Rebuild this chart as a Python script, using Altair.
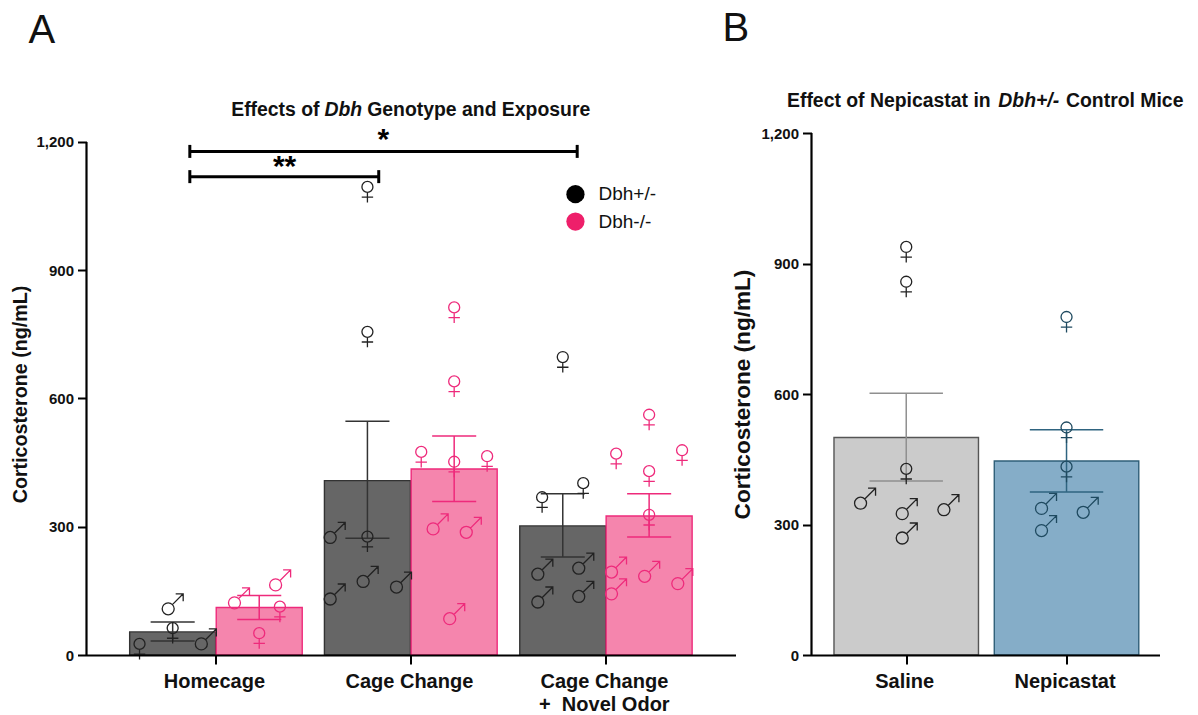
import altair as alt
import pandas as pd

FONT = "Liberation Sans"
series_names = ["Dbh+/-", "Dbh-/-", "Saline", "Nepicastat"]
fill_colors = ["#666666", "#f585ad", "#cbcbcb", "#85adc8"]
edge_colors = ["#333333", "#ee2a7b", "#555555", "#2f5f78"]
line_colors = ["#333333", "#ee2a7b", "#8f8f8f", "#2f6480"]
mark_colors = ["#222222", "#ee2a7b", "#222222", "#1f4a60"]

# ---- Panel A
a_categories = ["Homecage", "Cage Change", "Cage Change + Novel Odor"]
a_series = ["Dbh+/-", "Dbh-/-"] * 3
a_x = [0.778, 1.222, 1.777, 2.222, 2.779, 3.222]
a_mean = [54, 111, 408, 435, 302, 325]
a_err_low = [33, 83, 273, 359, 229, 276]
a_err_high = [77, 139, 547, 512, 377, 377]
a_sex = [
    ["F", "F", "M", "M"],
    ["M", "M", "F", "F"],
    ["M", "M", "M", "M", "F", "F", "F"],
    ["F", "F", "F", "F", "F", "M", "M", "M"],
    ["F", "F", "F", "M", "M", "M", "M"],
    ["F", "F", "F", "F", "F", "M", "M", "M", "M"],
]
a_jitter = [
    [-0.170, 0, -0.023, 0.147],
    [-0.127, 0.084, 0.106, 0],
    [-0.191, -0.191, -0.022, 0.149, 0, 0, 0],
    [0, 0, -0.169, 0, 0.169, -0.108, 0.062, -0.023],
    [-0.106, 0.105, 0, -0.128, 0.082, -0.128, 0.082],
    [-0.169, 0, 0.169, 0, 0, -0.193, -0.193, -0.023, 0.147],
]
a_values = [
    [26, 63, 108, 26],
    [122, 164, 113, 51],
    [275, 131, 172, 159, 277, 1095, 756],
    [813, 640, 475, 452, 465, 295, 287, 85],
    [369, 402, 697, 189, 203, 124, 137],
    [471, 430, 479, 328, 562, 194, 143, 184, 167],
]

# ---- Panel B
b_categories = ["Saline", "Nepicastat"]
b_series = ["Saline", "Nepicastat"]
b_x = [1, 2]
b_mean = [500, 446]
b_err_low = [400, 375]
b_err_high = [602, 518]
b_sex = [["M", "M", "M", "M", "F", "F", "F"], ["M", "M", "M", "F", "F", "F"]]
b_jitter = [[-0.285, -0.025, 0.235, -0.025, 0, 0, 0], [-0.156, 0.104, -0.156, 0, 0, 0]]
b_values = [[349, 325, 334, 269, 428, 938, 858], [337, 328, 286, 523, 433, 777]]

# ---- Annotations in panel A
bracket_left = [0.866, 0.866]
bracket_right = [1.835, 2.853]
bracket_y = [1119, 1178]
star_text = ["**", "*"]
star_x = [1.352, 1.859]
star_y = [1141, 1205]
legend_names = ["Dbh+/-", "Dbh-/-"]
legend_x = [2.844, 2.844]
legend_y = [1078, 1014]
legend_colors = ["#000000", "#ee1f6a"]

# Venus / Mars outlines, ring centred on the origin
F_PATH = ("M0.55,0 A0.55,0.55 0 1,1 -0.55,0 A0.55,0.55 0 1,1 0.55,0 "
          "M0,0.55 L0,1.55 M-0.57,1.02 L0.57,1.02")
M_PATH = ("M0.6,0 A0.6,0.6 0 1,1 -0.6,0 A0.6,0.6 0 1,1 0.6,0 "
          "M0.42,-0.42 L1.5,-1.5 M0.75,-1.5 L1.5,-1.5 L1.5,-0.75")


def points_frame(xs, series, jitter, values, sex):
    rows = []
    for x, s, js, vs, ss in zip(xs, series, jitter, values, sex):
        for j, v, g in zip(js, vs, ss):
            rows.append({"x": x + j, "v": v, "sex": g, "series": s})
    return pd.DataFrame(rows)


def label(text, px, py, size, weight="normal", style="normal", align="left", baseline="alphabetic"):
    return alt.Chart(pd.DataFrame({"t": [text]})).mark_text(
        font=FONT, fontSize=size, fontWeight=weight, fontStyle=style, align=align,
        baseline=baseline, color="#111111",
    ).encode(x=alt.value(px), y=alt.value(py), text="t:N")


def panel(xs, series, mean, low, high, pts, xdom, ydom, bar_w, cap_half, ticks, label_expr, tsize, ypad):
    x_scale = alt.Scale(domain=xdom, nice=False, zero=False, padding=0)
    y_scale = alt.Scale(domain=ydom, nice=False, zero=True)
    y_axis = alt.Axis(
        values=[0, 300, 600, 900, 1200], format=",.0f", domain=False, grid=False, tickSize=9, tickWidth=2,
        tickColor="black", labelFont=FONT, labelFontSize=15, labelFontWeight="bold", labelColor="#111111",
        labelPadding=4, title="Corticosterone (ng/mL)", titleFont=FONT, titleFontSize=tsize,
        titleFontWeight="bold", titleColor="#111111", titlePadding=ypad,
    )
    x_axis = alt.Axis(
        values=ticks, labelExpr=label_expr, title=None, grid=False, tickSize=9, tickWidth=2, tickColor="black",
        domainColor="black", domainWidth=2.2, labelFont=FONT, labelFontSize=20, labelFontWeight="bold",
        labelColor="#111111", labelPadding=7, labelOffset=-2, labelOverlap=False, labelFlush=False,
        labelLineHeight=23, zindex=1,
    )

    def X(f):
        return alt.X(f"{f}:Q", scale=x_scale, axis=x_axis, title=None)

    def Y(f):
        return alt.Y(f"{f}:Q", scale=y_scale, axis=y_axis, title="Corticosterone (ng/mL)")

    bars = pd.DataFrame({
        "x": xs, "series": series, "mean": mean, "low": low, "high": high,
        "xl": [x - cap_half for x in xs], "xr": [x + cap_half for x in xs],
    })
    fill = alt.Fill("series:N", scale=alt.Scale(domain=series_names, range=fill_colors), legend=None)
    edge = alt.Stroke("series:N", scale=alt.Scale(domain=series_names, range=edge_colors), legend=None)
    line = alt.Color("series:N", scale=alt.Scale(domain=series_names, range=line_colors), legend=None)

    bar = alt.Chart(bars).mark_bar(size=bar_w, strokeWidth=1.4).encode(x=X("x"), y=Y("mean"), fill=fill, stroke=edge)
    stem = alt.Chart(bars).mark_rule(strokeWidth=1.5).encode(x=X("x"), y=Y("low"), y2="high:Q", color=line)
    cap_hi = alt.Chart(bars).mark_rule(strokeWidth=1.5).encode(x=X("xl"), x2="xr:Q", y=Y("high"), color=line)
    cap_lo = alt.Chart(bars).mark_rule(strokeWidth=1.5).encode(x=X("xl"), x2="xr:Q", y=Y("low"), color=line)
    pts_layer = alt.Chart(pts).mark_point(size=400, filled=False, opacity=1, strokeWidth=1.3).encode(
        x=X("x"), y=Y("v"),
        shape=alt.Shape("sex:N", scale=alt.Scale(domain=["F", "M"], range=[F_PATH, M_PATH]), legend=None),
        stroke=alt.Stroke("series:N", scale=alt.Scale(domain=series_names, range=mark_colors), legend=None),
    )
    y_line = alt.Chart(pd.DataFrame({"a": [0], "b": [1200]})).mark_rule(color="black", strokeWidth=2.2).encode(
        x=alt.value(0), y=Y("a"), y2="b:Q")
    return [bar, stem, cap_hi, cap_lo, pts_layer, y_line], X, Y


# ---- Build panel A
a_pts = points_frame(a_x, a_series, a_jitter, a_values, a_sex)
a_layers, AX, AY = panel(
    a_x, a_series, a_mean, a_err_low, a_err_high, a_pts, [0.336, 3.665], [0, 1221.05], 86, 0.113,
    [1, 2, 3],
    "datum.value==1 ? 'Homecage' : datum.value==2 ? 'Cage Change' : ['Cage Change','+\u00a0\u00a0Novel Odor']",
    19.7, 5,
)
br = pd.DataFrame({"l": bracket_left, "r": bracket_right, "y": bracket_y})
a_layers.append(alt.Chart(br).mark_rule(color="black", strokeWidth=3).encode(x=AX("l"), x2="r:Q", y=AY("y")))
for col in ["l", "r"]:
    a_layers.append(alt.Chart(br).mark_tick(orient="vertical", size=13, thickness=3, color="black", opacity=1).encode(
        x=AX(col), y=AY("y")))
stars = pd.DataFrame({"t": star_text, "x": star_x, "y": star_y})
a_layers.append(alt.Chart(stars).mark_text(font=FONT, fontSize=30, fontWeight="bold", color="black", baseline="middle").encode(
    x=AX("x"), y=AY("y"), text="t:N"))
leg = pd.DataFrame({"n": legend_names, "x": legend_x, "y": legend_y})
a_layers.append(alt.Chart(leg).mark_point(size=333, filled=True, opacity=1, shape="circle").encode(
    x=AX("x"), y=AY("y"),
    fill=alt.Fill("n:N", scale=alt.Scale(domain=legend_names, range=legend_colors), legend=None)))
a_layers.append(alt.Chart(leg).mark_text(font=FONT, fontSize=19, align="left", baseline="middle", dx=23, color="#111111").encode(
    x=AX("x"), y=AY("y"), text="n:N"))
# plot origin of panel A sits at page (86, 133)
a_layers += [
    label("Effects of", 144.7, -17.3, 19.4, weight="bold"),
    label("Dbh", 238, -17.3, 19.4, weight="bold", style="italic"),
    label("Genotype and Exposure", 280.7, -17.3, 19.4, weight="bold"),
    label("A", -58, -90, 40),
]
chart_a = alt.layer(*a_layers).resolve_scale(fill="independent", stroke="independent").properties(width=649, height=522)

# ---- Build panel B
b_pts = points_frame(b_x, b_series, b_jitter, b_values, b_sex)
b_layers, BX, BY = panel(
    b_x, b_series, b_mean, b_err_low, b_err_high, b_pts, [0.409, 2.58], [0, 1200], 144.5, 0.229,
    [1, 2], "datum.value==1 ? 'Saline' : 'Nepicastat'", 22.6, 6.5,
)
# plot origin of panel B sits at page (810.5, 133)
b_layers += [
    label("Effect of Nepicastat in", -24.5, -26, 19.4, weight="bold"),
    label("Dbh+/-", 186.8, -26, 19.4, weight="bold", style="italic"),
    label("Control Mice", 254.5, -26, 19.4, weight="bold"),
    label("B", -89, -92.5, 40),
]
chart_b = alt.layer(*b_layers).resolve_scale(fill="independent", stroke="independent").properties(width=348, height=522)

chart = alt.hconcat(chart_a, chart_b, spacing=76, bounds="flush").properties(
    padding={"left": 2.5, "top": 0, "right": 0, "bottom": 0}
).configure_view(stroke=None)
chart.save("out.html", embed_options={"renderer": "svg", "actions": False})
